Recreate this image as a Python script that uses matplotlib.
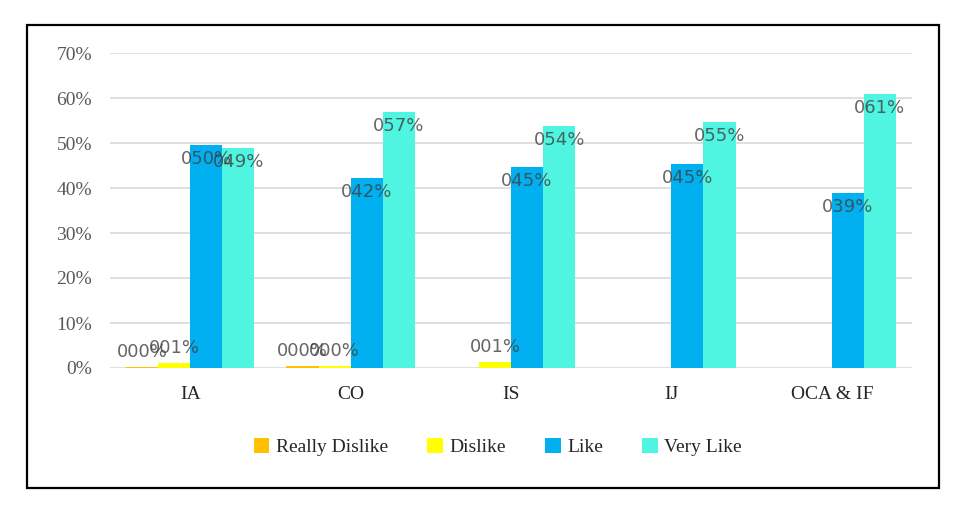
import matplotlib
matplotlib.use("Agg")
import matplotlib.pyplot as plt
import numpy as np
from matplotlib.patches import Rectangle

categories = ["IA", "CO", "IS", "IJ", "OCA & IF"]
series_names = ["Really Dislike", "Dislike", "Like", "Very Like"]
really_dislike = [0.3, 0.4, np.nan, np.nan, np.nan]
dislike = [1.2, 0.4, 1.3, np.nan, np.nan]
like = [49.6, 42.2, 44.7, 45.3, 39.0]
very_like = [48.9, 57.0, 53.8, 54.6, 60.8]
yticks = [0, 10, 20, 30, 40, 50, 60, 70]
ytick_labels = ["0%", "10%", "20%", "30%", "40%", "50%", "60%", "70%"]

colors = ["#FFC000", "#FFFF00", "#00B0F0", "#50F5E2"]
serif = ["Liberation Serif", "DejaVu Serif"]

fig = plt.figure(figsize=(9.6, 5.11), dpi=100)
ax = fig.add_axes([110/960, 1-368/511, (912-110)/960, (368-53)/511])

x = np.arange(len(categories))
w = 0.2
all_series = [really_dislike, dislike, like, very_like]
for i, (vals, name, c) in enumerate(zip(all_series, series_names, colors)):
    pos = x + (i - 1.5) * w
    v = np.array(vals, dtype=float)
    ax.bar(pos, v, width=w, color=c, label=name, zorder=2)
    for px, val in zip(pos, v):
        if np.isnan(val):
            continue
        lab = "%03d%%" % int(round(val))
        if val > 5:
            off = -14
        else:
            off = 15
        ax.annotate(lab, (px, val), xytext=(0, off), textcoords="offset pixels",
                    ha="center", va="center", fontsize=13, family="DejaVu Sans",
                    color="#404040", alpha=0.8, zorder=3)

ax.set_xlim(-0.5, len(categories) - 0.5)
ax.set_ylim(0, 70)
ax.set_yticks(yticks)
ax.set_yticklabels(ytick_labels, family=serif, fontsize=14, color="#595959")
ax.set_xticks(x)
ax.set_xticklabels(categories, family=serif, fontsize=14, color="#262626")
ax.tick_params(axis="both", length=0)
ax.tick_params(axis="y", pad=13)
ax.tick_params(axis="x", pad=13)
ax.grid(axis="y", color="#D9D9D9", linewidth=1.2, zorder=0)
ax.set_axisbelow(True)
for s in ax.spines.values():
    s.set_visible(False)

leg = fig.legend(loc="center", bbox_to_anchor=(498/960, 1-447/511), ncol=4,
                 frameon=False, prop={"family": serif, "size": 14},
                 handlelength=0.8, handleheight=0.8, handletextpad=0.35,
                 columnspacing=2.0)
for t in leg.get_texts():
    t.set_color("#262626")

fig.patches.append(Rectangle((27/960, 1-488/511), (939-27)/960, (488-25)/511,
                             transform=fig.transFigure, fill=False,
                             edgecolor="black", linewidth=1.6, zorder=10))

fig.savefig("out.png", dpi=100, facecolor="white")
